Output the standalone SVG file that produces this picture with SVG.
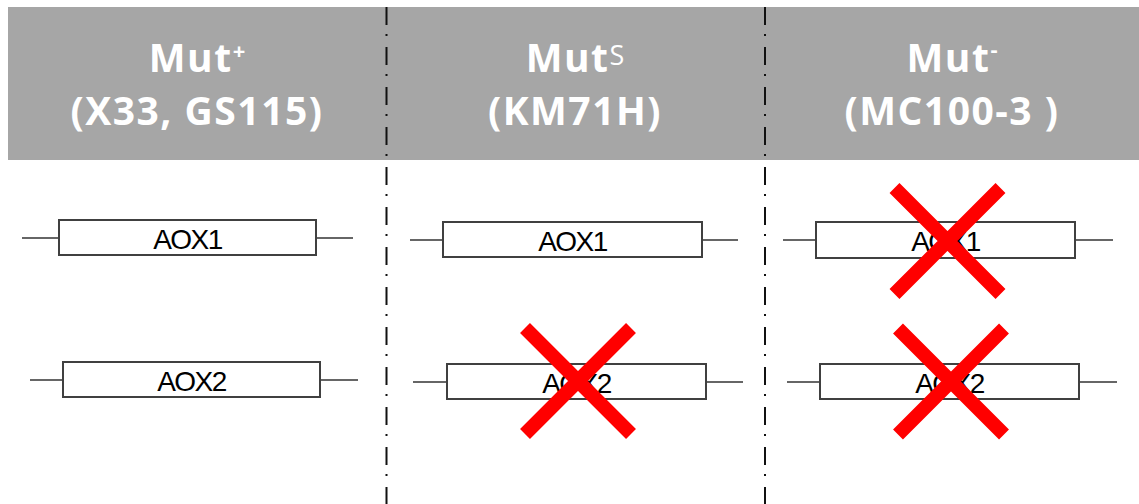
<svg xmlns="http://www.w3.org/2000/svg" width="1139" height="504" viewBox="0 0 1139 504">
<style>
.hdr{fill:#a6a6a6}
.ht{font-family:"Open Sans","Liberation Sans",sans-serif;font-weight:bold;font-size:39px;fill:#ffffff;text-anchor:middle;letter-spacing:1.5px}
.sup{font-size:22px;letter-spacing:0}
.supS{font-size:27px;font-weight:normal;letter-spacing:0}
.sep{stroke:#111;stroke-width:2;stroke-dasharray:18 9 2 11;fill:none}
.box{fill:#fff;stroke:#404040;stroke-width:2}
.wire{stroke:#333;stroke-width:1.5;fill:none}
.lbl{font-family:"Liberation Sans",Arial,sans-serif;font-size:28px;fill:#000;text-anchor:middle;letter-spacing:-1.5px}
.x{stroke:#ff0000;stroke-width:14;fill:none}
</style>
<rect class="hdr" x="8" y="7" width="1131" height="153"/>
<g id="header1"><text class="ht" x="197" y="72">Mut<tspan class="sup" dy="-13">+</tspan></text><text class="ht" x="197" y="125">(X33, GS115)</text></g>
<g id="header2"><text class="ht" x="575" y="72">Mut<tspan class="supS" dy="-7">S</tspan></text><text class="ht" x="575" y="125">(KM71H)</text></g>
<g id="header3"><text class="ht" x="952" y="72">Mut<tspan class="sup" dy="-15">-</tspan></text><text class="ht" x="952" y="125">(MC100-3 )</text></g>
<g id="separators">
<line class="sep" x1="386.5" y1="7" x2="386.5" y2="504"/>
<line class="sep" x1="765" y1="7" x2="765" y2="504"/>
</g>
<g id="connectors">
<line class="wire" x1="22" y1="238" x2="59" y2="238"/><line class="wire" x1="316" y1="238" x2="353" y2="238"/>
<line class="wire" x1="30" y1="380" x2="63" y2="380"/><line class="wire" x1="320" y1="380" x2="358" y2="380"/>
<line class="wire" x1="410" y1="240" x2="443" y2="240"/><line class="wire" x1="702" y1="240" x2="738" y2="240"/>
<line class="wire" x1="413" y1="382" x2="447" y2="382"/><line class="wire" x1="706" y1="382" x2="743" y2="382"/>
<line class="wire" x1="783" y1="240" x2="816" y2="240"/><line class="wire" x1="1075" y1="240" x2="1113" y2="240"/>
<line class="wire" x1="787" y1="382" x2="820" y2="382"/><line class="wire" x1="1079" y1="382" x2="1117" y2="382"/>
</g>
<g id="mutp-aox1"><rect class="box" x="59" y="220" width="257" height="35"/><text class="lbl" x="187.5" y="249">AOX1</text></g>
<g id="mutp-aox2"><rect class="box" x="63" y="362" width="257" height="35"/><text class="lbl" x="191.5" y="391">AOX2</text></g>
<g id="muts-aox1"><rect class="box" x="443" y="222" width="259" height="35"/><text class="lbl" x="572.5" y="251">AOX1</text></g>
<g id="muts-aox2"><rect class="box" x="447" y="364" width="259" height="35"/><text class="lbl" x="576.5" y="393">AOX2</text></g>
<g id="mutm-aox1"><rect class="box" x="816" y="222" width="259" height="36"/><text class="lbl" x="945.5" y="251">AOX1</text></g>
<g id="mutm-aox2"><rect class="box" x="820" y="364" width="259" height="35"/><text class="lbl" x="949.5" y="393">AOX2</text></g>
<g id="crosses">
<path class="x" d="M525 328L631 434M631 328L525 434"/>
<path class="x" d="M894.5 188L1000.5 294M1000.5 188L894.5 294"/>
<path class="x" d="M898 328.5L1004 434.5M1004 328.5L898 434.5"/>
</g>
</svg>
